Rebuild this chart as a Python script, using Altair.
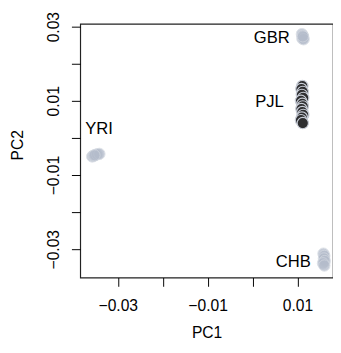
import altair as alt
import pandas as pd

# Population clusters (PC1, PC2)
yri_pc1 = [-0.0357, -0.0354, -0.0350, -0.0346, -0.0341, -0.0352]
yri_pc2 = [-0.0050, -0.0048, -0.0046, -0.0044, -0.0043, -0.0047]

gbr_pc1 = [0.0110, 0.0112, 0.0113, 0.0111, 0.0114, 0.0112]
gbr_pc2 = [0.0280, 0.0276, 0.0272, 0.0268, 0.0266, 0.0274]

pjl_pc1 = [0.0111, 0.0109, 0.0112, 0.0110, 0.0113, 0.0108, 0.0111, 0.0112,
           0.0109, 0.0111, 0.0113, 0.0110, 0.0108, 0.0112]
pjl_pc2 = [0.0140, 0.0132, 0.0124, 0.0116, 0.0108, 0.0100, 0.0092, 0.0085,
           0.0078, 0.0070, 0.0062, 0.0055, 0.0048, 0.0040]

chb_pc1 = [0.0158, 0.0160, 0.0159, 0.0161, 0.0157, 0.0160]
chb_pc2 = [-0.0312, -0.0318, -0.0325, -0.0332, -0.0338, -0.0344]

labels = ["YRI", "GBR", "PJL", "CHB"]
label_pc1 = [-0.0342, 0.0043, 0.0038, 0.0091]
label_pc2 = [0.0024, 0.0268, 0.0097, -0.0334]

x_ticks = [-0.03, -0.02, -0.01, 0.0, 0.01]
y_ticks = [-0.03, -0.02, -0.01, 0.0, 0.01, 0.02, 0.03]

rows = []
for pop, xs, ys in [("YRI", yri_pc1, yri_pc2), ("GBR", gbr_pc1, gbr_pc2),
                    ("CHB", chb_pc1, chb_pc2), ("PJL", pjl_pc1, pjl_pc2)]:
    for a, b in zip(xs, ys):
        rows.append({"pop": pop, "PC1": a, "PC2": b})
pts = pd.DataFrame(rows)
lab = pd.DataFrame({"pop": labels, "PC1": label_pc1, "PC2": label_pc2})

xscale = alt.Scale(domain=[-0.03837, 0.01793], nice=False, zero=False)
yscale = alt.Scale(domain=[-0.03763, 0.03079], nice=False, zero=False)

label_expr = "abs(round(datum.value*100)) % 2 == 1 ? format(datum.value, '.2f') : ''"

x_axis = alt.Axis(values=x_ticks, labelExpr=label_expr, title="PC1",
                  domain=False, grid=False, tickSize=9, tickColor="black",
                  tickWidth=1, labelFontSize=16, labelColor="black",
                  labelFont="Liberation Sans", labelPadding=12,
                  titleFont="Liberation Sans", titleFontSize=16,
                  titleFontWeight="normal", titleColor="black",
                  titleY=56, titleBaseline="middle", labelFlush=False)
y_axis = alt.Axis(values=y_ticks, labelExpr=label_expr, title="PC2",
                  domain=False, grid=False, tickSize=9, tickColor="black",
                  tickWidth=1, labelFontSize=16, labelColor="black",
                  labelFont="Liberation Sans", labelAngle=270,
                  labelAlign="center", labelBaseline="bottom", labelPadding=10,
                  titleFont="Liberation Sans", titleFontSize=16,
                  titleFontWeight="normal", titleColor="black",
                  titleX=-64, titleY=124, titleBaseline="middle",
                  labelFlush=False)

light = alt.Chart(pts).transform_filter(alt.datum.pop != "PJL").mark_circle(
    size=135, color="#b4bccb", opacity=0.75, stroke="#d3d8e0", strokeWidth=1
).encode(
    x=alt.X("PC1:Q", scale=xscale, axis=x_axis),
    y=alt.Y("PC2:Q", scale=yscale, axis=y_axis),
)

dark = alt.Chart(pts).transform_filter(alt.datum.pop == "PJL").mark_circle(
    size=135, color="#2e2e30", opacity=1, stroke="#c9ced8", strokeWidth=1.2
).encode(
    x=alt.X("PC1:Q", scale=xscale),
    y=alt.Y("PC2:Q", scale=yscale),
)

text = alt.Chart(lab).mark_text(
    font="Liberation Sans", fontSize=17, color="black",
    align="center", baseline="middle"
).encode(
    x=alt.X("PC1:Q", scale=xscale),
    y=alt.Y("PC2:Q", scale=yscale),
    text="pop:N",
)

chart = alt.layer(light, dark, text).properties(
    width=259, height=260,
    background="white",
    autosize=alt.AutoSizeParams(type="none"),
    padding={"left": 74, "top": 12, "right": 0, "bottom": 64},
).configure_view(stroke="#222222", strokeWidth=1.2)

chart.save("out.html", embed_options={"renderer": "svg", "actions": False})
